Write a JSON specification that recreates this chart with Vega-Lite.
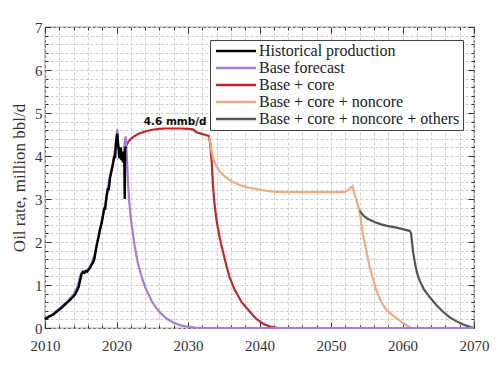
{
 "$schema": "https://vega.github.io/schema/vega-lite/v6.json",
 "width": 429, "height": 301,
 "autosize": {"type": "none"},
 "padding": {"left": 45, "top": 27, "right": 26, "bottom": 38},
 "background": "white",
 "config": {"view": {"stroke": "#555", "strokeWidth": 1.2}, "font": "Liberation Serif"},
 "datasets": {
  "d": [
   {"series": "Historical production", "year": 2010.0, "rate": 0.20},
   {"series": "Historical production", "year": 2010.3, "rate": 0.24},
   {"series": "Historical production", "year": 2010.6, "rate": 0.27},
   {"series": "Historical production", "year": 2010.9, "rate": 0.29},
   {"series": "Historical production", "year": 2011.2, "rate": 0.32},
   {"series": "Historical production", "year": 2011.5, "rate": 0.36},
   {"series": "Historical production", "year": 2011.8, "rate": 0.40},
   {"series": "Historical production", "year": 2012.1, "rate": 0.44},
   {"series": "Historical production", "year": 2012.4, "rate": 0.48},
   {"series": "Historical production", "year": 2012.7, "rate": 0.53},
   {"series": "Historical production", "year": 2013.0, "rate": 0.58},
   {"series": "Historical production", "year": 2013.3, "rate": 0.62},
   {"series": "Historical production", "year": 2013.6, "rate": 0.67},
   {"series": "Historical production", "year": 2013.9, "rate": 0.72},
   {"series": "Historical production", "year": 2014.2, "rate": 0.78},
   {"series": "Historical production", "year": 2014.5, "rate": 0.88},
   {"series": "Historical production", "year": 2014.7, "rate": 0.95},
   {"series": "Historical production", "year": 2014.9, "rate": 1.10},
   {"series": "Historical production", "year": 2015.0, "rate": 1.17},
   {"series": "Historical production", "year": 2015.1, "rate": 1.25},
   {"series": "Historical production", "year": 2015.3, "rate": 1.30},
   {"series": "Historical production", "year": 2015.5, "rate": 1.28},
   {"series": "Historical production", "year": 2015.7, "rate": 1.32},
   {"series": "Historical production", "year": 2015.9, "rate": 1.31},
   {"series": "Historical production", "year": 2016.1, "rate": 1.36},
   {"series": "Historical production", "year": 2016.3, "rate": 1.40},
   {"series": "Historical production", "year": 2016.5, "rate": 1.47},
   {"series": "Historical production", "year": 2016.7, "rate": 1.52},
   {"series": "Historical production", "year": 2016.9, "rate": 1.60},
   {"series": "Historical production", "year": 2017.1, "rate": 1.80},
   {"series": "Historical production", "year": 2017.3, "rate": 1.98},
   {"series": "Historical production", "year": 2017.5, "rate": 2.12},
   {"series": "Historical production", "year": 2017.7, "rate": 2.30},
   {"series": "Historical production", "year": 2017.9, "rate": 2.42},
   {"series": "Historical production", "year": 2018.1, "rate": 2.60},
   {"series": "Historical production", "year": 2018.3, "rate": 2.80},
   {"series": "Historical production", "year": 2018.4, "rate": 2.75},
   {"series": "Historical production", "year": 2018.6, "rate": 3.05},
   {"series": "Historical production", "year": 2018.8, "rate": 3.25},
   {"series": "Historical production", "year": 2018.9, "rate": 3.20},
   {"series": "Historical production", "year": 2019.1, "rate": 3.50},
   {"series": "Historical production", "year": 2019.3, "rate": 3.65},
   {"series": "Historical production", "year": 2019.5, "rate": 3.80},
   {"series": "Historical production", "year": 2019.7, "rate": 4.00},
   {"series": "Historical production", "year": 2019.8, "rate": 3.95},
   {"series": "Historical production", "year": 2019.9, "rate": 4.25},
   {"series": "Historical production", "year": 2020.0, "rate": 4.40},
   {"series": "Historical production", "year": 2020.1, "rate": 4.52},
   {"series": "Historical production", "year": 2020.2, "rate": 4.30},
   {"series": "Historical production", "year": 2020.3, "rate": 4.15},
   {"series": "Historical production", "year": 2020.4, "rate": 3.95},
   {"series": "Historical production", "year": 2020.5, "rate": 4.05},
   {"series": "Historical production", "year": 2020.6, "rate": 4.20},
   {"series": "Historical production", "year": 2020.7, "rate": 3.90},
   {"series": "Historical production", "year": 2020.8, "rate": 4.00},
   {"series": "Historical production", "year": 2020.9, "rate": 3.85},
   {"series": "Historical production", "year": 2021.0, "rate": 4.10},
   {"series": "Historical production", "year": 2021.1, "rate": 3.80},
   {"series": "Historical production", "year": 2021.15, "rate": 3.00},
   {"series": "Historical production", "year": 2021.2, "rate": 4.15},
   {"series": "Historical production", "year": 2021.3, "rate": 4.22},

   {"series": "Base forecast", "year": 2010.0, "rate": 0.21},
   {"series": "Base forecast", "year": 2011.0, "rate": 0.31},
   {"series": "Base forecast", "year": 2012.0, "rate": 0.45},
   {"series": "Base forecast", "year": 2013.0, "rate": 0.60},
   {"series": "Base forecast", "year": 2014.0, "rate": 0.78},
   {"series": "Base forecast", "year": 2014.5, "rate": 0.95},
   {"series": "Base forecast", "year": 2015.0, "rate": 1.25},
   {"series": "Base forecast", "year": 2015.3, "rate": 1.32},
   {"series": "Base forecast", "year": 2016.0, "rate": 1.35},
   {"series": "Base forecast", "year": 2016.5, "rate": 1.48},
   {"series": "Base forecast", "year": 2017.0, "rate": 1.75},
   {"series": "Base forecast", "year": 2017.5, "rate": 2.15},
   {"series": "Base forecast", "year": 2018.0, "rate": 2.55},
   {"series": "Base forecast", "year": 2018.5, "rate": 2.95},
   {"series": "Base forecast", "year": 2019.0, "rate": 3.45},
   {"series": "Base forecast", "year": 2019.5, "rate": 3.85},
   {"series": "Base forecast", "year": 2019.8, "rate": 4.15},
   {"series": "Base forecast", "year": 2020.0, "rate": 4.45},
   {"series": "Base forecast", "year": 2020.1, "rate": 4.62},
   {"series": "Base forecast", "year": 2020.25, "rate": 4.30},
   {"series": "Base forecast", "year": 2020.5, "rate": 3.95},
   {"series": "Base forecast", "year": 2020.75, "rate": 3.92},
   {"series": "Base forecast", "year": 2021.0, "rate": 4.10},
   {"series": "Base forecast", "year": 2021.2, "rate": 4.40},
   {"series": "Base forecast", "year": 2021.3, "rate": 4.45},
   {"series": "Base forecast", "year": 2021.45, "rate": 4.00},
   {"series": "Base forecast", "year": 2021.6, "rate": 3.40},
   {"series": "Base forecast", "year": 2021.8, "rate": 2.90},
   {"series": "Base forecast", "year": 2022.0, "rate": 2.55},
   {"series": "Base forecast", "year": 2022.5, "rate": 1.95},
   {"series": "Base forecast", "year": 2023.0, "rate": 1.50},
   {"series": "Base forecast", "year": 2023.5, "rate": 1.20},
   {"series": "Base forecast", "year": 2024.0, "rate": 0.95},
   {"series": "Base forecast", "year": 2025.0, "rate": 0.60},
   {"series": "Base forecast", "year": 2026.0, "rate": 0.37},
   {"series": "Base forecast", "year": 2027.0, "rate": 0.22},
   {"series": "Base forecast", "year": 2028.0, "rate": 0.12},
   {"series": "Base forecast", "year": 2029.0, "rate": 0.06},
   {"series": "Base forecast", "year": 2030.0, "rate": 0.03},
   {"series": "Base forecast", "year": 2031.0, "rate": 0.01},
   {"series": "Base forecast", "year": 2032.0, "rate": 0.0},
   {"series": "Base forecast", "year": 2070.0, "rate": 0.0},

   {"series": "Base + core", "year": 2021.3, "rate": 4.22},
   {"series": "Base + core", "year": 2021.6, "rate": 4.32},
   {"series": "Base + core", "year": 2022.0, "rate": 4.40},
   {"series": "Base + core", "year": 2022.5, "rate": 4.46},
   {"series": "Base + core", "year": 2023.0, "rate": 4.51},
   {"series": "Base + core", "year": 2024.0, "rate": 4.57},
   {"series": "Base + core", "year": 2025.0, "rate": 4.61},
   {"series": "Base + core", "year": 2026.0, "rate": 4.63},
   {"series": "Base + core", "year": 2027.0, "rate": 4.64},
   {"series": "Base + core", "year": 2028.0, "rate": 4.64},
   {"series": "Base + core", "year": 2029.0, "rate": 4.64},
   {"series": "Base + core", "year": 2030.0, "rate": 4.63},
   {"series": "Base + core", "year": 2030.7, "rate": 4.62},
   {"series": "Base + core", "year": 2031.2, "rate": 4.55},
   {"series": "Base + core", "year": 2032.0, "rate": 4.51},
   {"series": "Base + core", "year": 2032.9, "rate": 4.47},
   {"series": "Base + core", "year": 2033.1, "rate": 4.30},
   {"series": "Base + core", "year": 2033.3, "rate": 3.90},
   {"series": "Base + core", "year": 2033.5, "rate": 3.30},
   {"series": "Base + core", "year": 2033.7, "rate": 2.90},
   {"series": "Base + core", "year": 2034.0, "rate": 2.50},
   {"series": "Base + core", "year": 2034.4, "rate": 2.12},
   {"series": "Base + core", "year": 2035.0, "rate": 1.70},
   {"series": "Base + core", "year": 2035.4, "rate": 1.43},
   {"series": "Base + core", "year": 2035.8, "rate": 1.19},
   {"series": "Base + core", "year": 2036.5, "rate": 0.90},
   {"series": "Base + core", "year": 2037.5, "rate": 0.60},
   {"series": "Base + core", "year": 2038.6, "rate": 0.39},
   {"series": "Base + core", "year": 2039.5, "rate": 0.22},
   {"series": "Base + core", "year": 2040.5, "rate": 0.10},
   {"series": "Base + core", "year": 2041.5, "rate": 0.03},
   {"series": "Base + core", "year": 2042.6, "rate": 0.0},
   {"series": "Base + core", "year": 2070.0, "rate": 0.0},

   {"series": "Base + core + noncore", "year": 2033.0, "rate": 4.45},
   {"series": "Base + core + noncore", "year": 2033.3, "rate": 4.10},
   {"series": "Base + core + noncore", "year": 2033.7, "rate": 3.85},
   {"series": "Base + core + noncore", "year": 2034.4, "rate": 3.65},
   {"series": "Base + core + noncore", "year": 2035.0, "rate": 3.55},
   {"series": "Base + core + noncore", "year": 2035.8, "rate": 3.44},
   {"series": "Base + core + noncore", "year": 2036.5, "rate": 3.38},
   {"series": "Base + core + noncore", "year": 2037.5, "rate": 3.31},
   {"series": "Base + core + noncore", "year": 2038.6, "rate": 3.26},
   {"series": "Base + core + noncore", "year": 2040.0, "rate": 3.22},
   {"series": "Base + core + noncore", "year": 2041.0, "rate": 3.19},
   {"series": "Base + core + noncore", "year": 2042.0, "rate": 3.17},
   {"series": "Base + core + noncore", "year": 2043.3, "rate": 3.16},
   {"series": "Base + core + noncore", "year": 2047.0, "rate": 3.16},
   {"series": "Base + core + noncore", "year": 2051.9, "rate": 3.16},
   {"series": "Base + core + noncore", "year": 2052.5, "rate": 3.22},
   {"series": "Base + core + noncore", "year": 2053.0, "rate": 3.30},
   {"series": "Base + core + noncore", "year": 2053.3, "rate": 3.10},
   {"series": "Base + core + noncore", "year": 2053.6, "rate": 2.95},
   {"series": "Base + core + noncore", "year": 2054.0, "rate": 2.72},
   {"series": "Base + core + noncore", "year": 2054.45, "rate": 2.20},
   {"series": "Base + core + noncore", "year": 2055.0, "rate": 1.75},
   {"series": "Base + core + noncore", "year": 2055.4, "rate": 1.43},
   {"series": "Base + core + noncore", "year": 2056.3, "rate": 0.89},
   {"series": "Base + core + noncore", "year": 2057.0, "rate": 0.62},
   {"series": "Base + core + noncore", "year": 2057.7, "rate": 0.43},
   {"series": "Base + core + noncore", "year": 2058.6, "rate": 0.30},
   {"series": "Base + core + noncore", "year": 2059.6, "rate": 0.17},
   {"series": "Base + core + noncore", "year": 2060.5, "rate": 0.07},
   {"series": "Base + core + noncore", "year": 2061.2, "rate": 0.0},

   {"series": "Base + core + noncore + others", "year": 2054.0, "rate": 2.73},
   {"series": "Base + core + noncore + others", "year": 2054.5, "rate": 2.62},
   {"series": "Base + core + noncore + others", "year": 2055.0, "rate": 2.55},
   {"series": "Base + core + noncore + others", "year": 2056.0, "rate": 2.47},
   {"series": "Base + core + noncore + others", "year": 2057.0, "rate": 2.41},
   {"series": "Base + core + noncore + others", "year": 2058.0, "rate": 2.37},
   {"series": "Base + core + noncore + others", "year": 2059.0, "rate": 2.34},
   {"series": "Base + core + noncore + others", "year": 2060.0, "rate": 2.30},
   {"series": "Base + core + noncore + others", "year": 2061.0, "rate": 2.26},
   {"series": "Base + core + noncore + others", "year": 2061.2, "rate": 2.20},
   {"series": "Base + core + noncore + others", "year": 2061.5, "rate": 1.75},
   {"series": "Base + core + noncore + others", "year": 2061.7, "rate": 1.55},
   {"series": "Base + core + noncore + others", "year": 2062.0, "rate": 1.30},
   {"series": "Base + core + noncore + others", "year": 2062.4, "rate": 1.10},
   {"series": "Base + core + noncore + others", "year": 2063.0, "rate": 0.90},
   {"series": "Base + core + noncore + others", "year": 2063.8, "rate": 0.72},
   {"series": "Base + core + noncore + others", "year": 2064.7, "rate": 0.54},
   {"series": "Base + core + noncore + others", "year": 2065.6, "rate": 0.39},
   {"series": "Base + core + noncore + others", "year": 2066.5, "rate": 0.26},
   {"series": "Base + core + noncore + others", "year": 2067.5, "rate": 0.16},
   {"series": "Base + core + noncore + others", "year": 2068.5, "rate": 0.08},
   {"series": "Base + core + noncore + others", "year": 2069.5, "rate": 0.02},
   {"series": "Base + core + noncore + others", "year": 2070.0, "rate": 0.0}
  ],
  "note": [{"year": 2028.2, "rate": 4.8, "label": "4.6 mmb/d"}]
 },
 "data": {"name": "d"},
 "layer": [
  {
   "encoding": {
    "x": {"field": "year", "type": "quantitative",
     "scale": {"domain": [2010, 2070], "nice": false, "zero": false},
     "axis": {"title": null, "format": "d", "tickCount": 200, "labelFlush": false,
      "values": [2010,2012,2014,2016,2018,2020,2022,2024,2026,2028,2030,2032,2034,2036,2038,2040,2042,2044,2046,2048,2050,2052,2054,2056,2058,2060,2062,2064,2066,2068,2070],
      "labelExpr": "datum.value % 10 === 0 ? datum.label : ''",
      "labelFont": "Liberation Serif", "labelFontSize": 15, "labelColor": "#333", "labelOverlap": false,
      "labelPadding": 16, "domain": false,
      "tickColor": "#333", "tickSize": {"condition": {"test": "datum.value % 10 === 0", "value": -6}, "value": -3},
      "grid": true, "gridColor": "#cfcfcf", "gridDash": [3, 2], "gridWidth": 1}},
    "y": {"field": "rate", "type": "quantitative",
     "scale": {"domain": [0, 7], "nice": false},
     "axis": {"title": "Oil rate, million bbl/d", "tickCount": 200,
      "values": [0,0.2,0.4,0.6,0.8,1,1.2,1.4,1.6,1.8,2,2.2,2.4,2.6,2.8,3,3.2,3.4,3.6,3.8,4,4.2,4.4,4.6,4.8,5,5.2,5.4,5.6,5.8,6,6.2,6.4,6.6,6.8,7],
      "labelExpr": "datum.value % 1 === 0 ? format(datum.value, 'd') : ''",
      "labelFont": "Liberation Serif", "labelFontSize": 15, "labelColor": "#333", "labelOverlap": false,
      "labelPadding": 9, "domain": false,
      "titleFont": "Liberation Serif", "titleFontSize": 17, "titleFontWeight": "normal", "titleColor": "#333", "titlePadding": 6,
      "tickColor": "#333", "tickSize": {"condition": {"test": "datum.value % 1 === 0", "value": -6}, "value": -3},
      "grid": true, "gridColor": "#cfcfcf", "gridDash": [3, 2], "gridWidth": 1}},
    "color": {"field": "series", "type": "nominal",
     "scale": {"domain": ["Historical production", "Base forecast", "Base + core", "Base + core + noncore", "Base + core + noncore + others"],
               "range": ["#000000", "#a57bde", "#c1272d", "#f4a97f", "#555555"]},
     "legend": {"title": null, "orient": "none", "legendX": 165, "legendY": 13,
      "symbolType": "M-1,0H7", "symbolSize": 100, "symbolStrokeWidth": 2.5,
      "labelFont": "Liberation Serif", "labelFontSize": 16, "labelColor": "#222", "labelLimit": 400, "labelOffset": 30,
      "padding": 3, "rowPadding": 1, "strokeColor": "#444", "fillColor": "white"}}
   },
   "layer": [
    {"transform": [{"filter": "datum.series === 'Base + core'"}], "mark": {"type": "line", "strokeWidth": 2.2}},
    {"transform": [{"filter": "datum.series === 'Base + core + noncore'"}], "mark": {"type": "line", "strokeWidth": 2.2}},
    {"transform": [{"filter": "datum.series === 'Base + core + noncore + others'"}], "mark": {"type": "line", "strokeWidth": 2.2}},
    {"transform": [{"filter": "datum.series === 'Base forecast'"}], "mark": {"type": "line", "strokeWidth": 2.2}},
    {"transform": [{"filter": "datum.series === 'Historical production'"}], "mark": {"type": "line", "strokeWidth": 2.4}},
    {"data": {"name": "note"},
     "mark": {"type": "text", "font": "DejaVu Sans", "fontWeight": "bold", "fontSize": 10.5, "color": "#111"},
     "encoding": {"text": {"field": "label"}, "color": {"value": "#111"}}}
   ]
  },
  {
   "mark": {"type": "line", "opacity": 0},
   "encoding": {
    "detail": {"field": "series"},
    "x": {"field": "year", "type": "quantitative",
     "scale": {"domain": [2010, 2070], "nice": false, "zero": false},
     "axis": {"orient": "top", "title": null, "labels": false, "grid": false, "domain": false, "tickCount": 200,
      "values": [2010,2012,2014,2016,2018,2020,2022,2024,2026,2028,2030,2032,2034,2036,2038,2040,2042,2044,2046,2048,2050,2052,2054,2056,2058,2060,2062,2064,2066,2068,2070],
      "tickColor": "#333", "tickSize": {"condition": {"test": "datum.value % 10 === 0", "value": -6}, "value": -3}}},
    "y": {"field": "rate", "type": "quantitative",
     "scale": {"domain": [0, 7], "nice": false},
     "axis": {"orient": "right", "title": null, "labels": false, "grid": false, "domain": false, "tickCount": 200,
      "values": [0,0.2,0.4,0.6,0.8,1,1.2,1.4,1.6,1.8,2,2.2,2.4,2.6,2.8,3,3.2,3.4,3.6,3.8,4,4.2,4.4,4.6,4.8,5,5.2,5.4,5.6,5.8,6,6.2,6.4,6.6,6.8,7],
      "tickColor": "#333", "tickSize": {"condition": {"test": "datum.value % 1 === 0", "value": -6}, "value": -3}}}
   }
  }
 ],
 "resolve": {"axis": {"x": "independent", "y": "independent"}}
}
